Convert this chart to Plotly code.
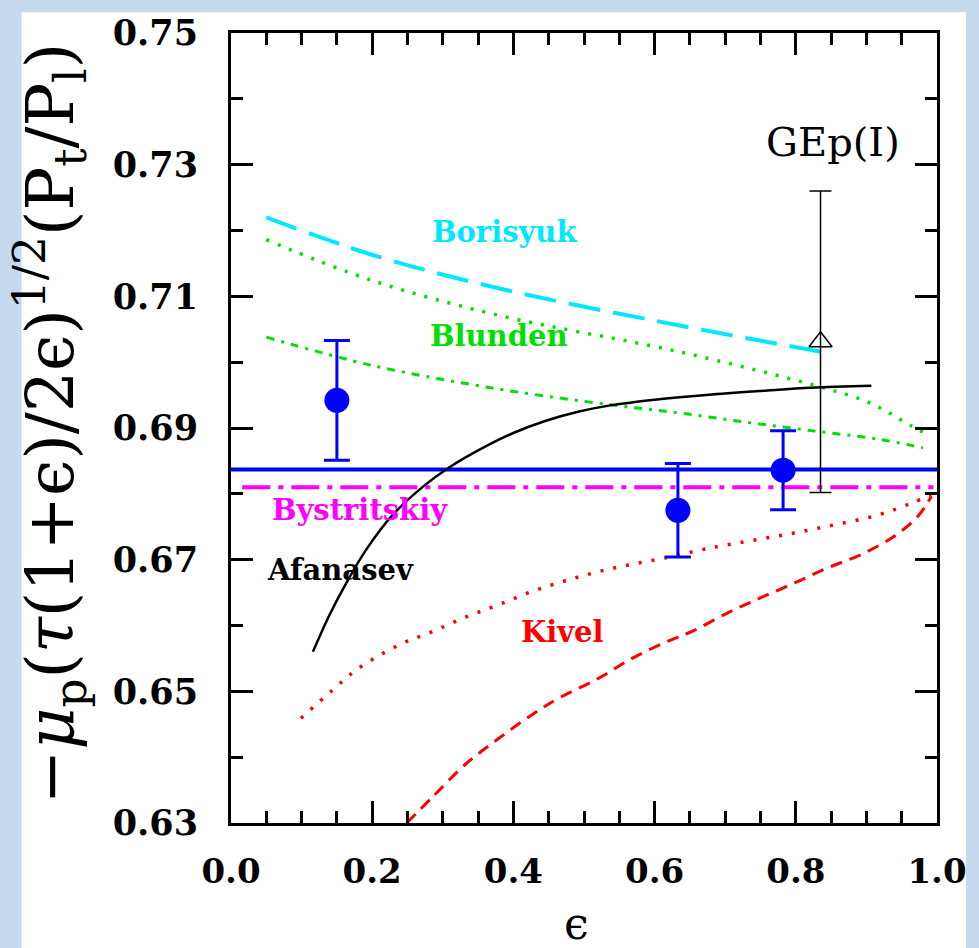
import plotly.graph_objects as go

# fit result and data
fit_value = 0.6837
bystritskiy_value = 0.681

data_eps = [0.150, 0.633, 0.782]
data_val = [0.6942, 0.6775, 0.6836]
data_err = [0.0091, 0.0071, 0.0060]

gep_eps = [0.835]
gep_val = [0.7031]
gep_err = [0.0229]

# theory curves
borisyuk_eps = [0.05, 0.20, 0.38, 0.634, 0.846]
borisyuk_val = [0.7220, 0.7163, 0.7112, 0.7056, 0.7014]

blunden_dot_eps = [0.05, 0.20, 0.38, 0.634, 0.836, 0.903, 0.964, 0.988]
blunden_dot_val = [0.7186, 0.7124, 0.7071, 0.7016, 0.6962, 0.6939, 0.6903, 0.6889]

blunden_dd_eps = [0.05, 0.20, 0.38, 0.54, 0.634, 0.728, 0.822, 0.917, 0.980]
blunden_dd_val = [0.7038, 0.6995, 0.6959, 0.6935, 0.6923, 0.6909, 0.6896, 0.6883, 0.6870]

afanasev_eps = [0.116, 0.140, 0.164, 0.192, 0.229, 0.272, 0.309, 0.352, 0.399, 0.446, 0.493, 0.535, 0.600, 0.681, 0.760, 0.822, 0.907]
afanasev_val = [0.6560, 0.6617, 0.6666, 0.6716, 0.6768, 0.6811, 0.6840, 0.6867, 0.6892, 0.6911, 0.6925, 0.6934, 0.6943, 0.6951, 0.6957, 0.6961, 0.6964]

kivel_dot_eps = [0.099, 0.144, 0.178, 0.239, 0.286, 0.333, 0.380, 0.427, 0.474, 0.521, 0.568, 0.616, 0.662, 0.705, 0.775, 0.846, 0.917, 0.964, 0.992]
kivel_dot_val = [0.6459, 0.6502, 0.6533, 0.6571, 0.6591, 0.6613, 0.6632, 0.6652, 0.6668, 0.6682, 0.6693, 0.6703, 0.6714, 0.6723, 0.6736, 0.6751, 0.6768, 0.6786, 0.6798]

kivel_dash_eps = [0.249, 0.285, 0.333, 0.380, 0.427, 0.465, 0.521, 0.568, 0.616, 0.653, 0.705, 0.752, 0.799, 0.846, 0.893, 0.940, 0.973, 0.992]
kivel_dash_val = [0.6300, 0.6339, 0.6390, 0.6429, 0.6465, 0.6490, 0.6520, 0.6550, 0.6575, 0.6591, 0.6620, 0.6643, 0.6665, 0.6688, 0.6708, 0.6736, 0.6766, 0.6796]

SERIF = "DejaVu Serif"

fig = go.Figure()

# horizontal lines
fig.add_trace(go.Scatter(x=[0.0, 1.0], y=[fit_value, fit_value], mode='lines',
                         line=dict(color='#0000ff', width=4)))
fig.add_trace(go.Scatter(x=[0.016, 0.995], y=[bystritskiy_value, bystritskiy_value], mode='lines',
                         line=dict(color='#ff00ff', width=4, dash='28px,8px,5px,8px')))

# theory curves
fig.add_trace(go.Scatter(x=borisyuk_eps, y=borisyuk_val, mode='lines', line_shape='spline',
                         line=dict(color='#00e8ff', width=4, dash='32px,13px')))
fig.add_trace(go.Scatter(x=blunden_dot_eps, y=blunden_dot_val, mode='lines', line_shape='spline',
                         line=dict(color='#00e000', width=3.5, dash='3px,9px')))
fig.add_trace(go.Scatter(x=blunden_dd_eps, y=blunden_dd_val, mode='lines', line_shape='spline',
                         line=dict(color='#00e000', width=3, dash='8px,7px,3px,7px')))
fig.add_trace(go.Scatter(x=afanasev_eps, y=afanasev_val, mode='lines', line_shape='spline',
                         line=dict(color='black', width=2.5)))
fig.add_trace(go.Scatter(x=kivel_dot_eps, y=kivel_dot_val, mode='lines', line_shape='spline',
                         line=dict(color='#ff0000', width=3.5, dash='3px,10px')))
fig.add_trace(go.Scatter(x=kivel_dash_eps, y=kivel_dash_val, mode='lines', line_shape='spline',
                         line=dict(color='#ff0000', width=3, dash='12px,8px')))

# GEp(I)
fig.add_trace(go.Scatter(x=gep_eps, y=gep_val, mode='markers',
                         marker=dict(symbol='triangle-up-open', size=20, color='black', line=dict(width=1.5)),
                         error_y=dict(type='data', array=gep_err, color='black', thickness=1.5, width=11)))

# data
fig.add_trace(go.Scatter(x=data_eps, y=data_val, mode='markers',
                         marker=dict(symbol='circle', size=25, color='#0000ff'),
                         error_y=dict(type='data', array=data_err, color='#0000ff', thickness=3, width=13)))

labels = [
    (0.387, 0.7197, "Borisyuk", '#00e8ff'),
    (0.380, 0.7040, "Blunden", '#00e000'),
    (0.183, 0.6775, "Bystritskiy", '#ff00ff'),
    (0.155, 0.6685, "Afanasev", 'black'),
    (0.469, 0.6590, "Kivel", '#ff0000'),
]
for lx, ly, txt, col in labels:
    fig.add_annotation(x=lx, y=ly, text=txt, showarrow=False, xanchor='center', yanchor='middle',
                       font=dict(family=SERIF, size=29, color=col, weight='bold'))

fig.add_annotation(x=0.853, y=0.7335, text="GEp(I)", showarrow=False, xanchor='center', yanchor='middle',
                   font=dict(family=SERIF, size=40, color='black'))

# axis titles
fig.add_annotation(x=-0.256, y=0.505, xref='paper', yref='paper', textangle=-90, showarrow=False,
                   xanchor='center', yanchor='middle',
                   text="−<i>μ</i><sub>p</sub>(<i>τ</i>(1+ϵ)/2ϵ)<sup>1/2</sup>(P<sub>t</sub>/P<sub>l</sub>)",
                   font=dict(family=SERIF, size=65, color='black'))
fig.add_annotation(x=0.489, y=-0.127, xref='paper', yref='paper', showarrow=False,
                   xanchor='center', yanchor='middle',
                   text="ϵ", font=dict(family=SERIF, size=44, color='black'))

# white page panel on the blue frame
fig.add_shape(type='rect', xref='paper', yref='paper', x0=-0.2966, x1=1.041, y0=-0.2, y1=1.0263,
              fillcolor='white', line=dict(width=0), layer='below')

fig.update_xaxes(range=[0, 1], tickmode='linear', tick0=0, dtick=0.2, tickformat='.1f',
                 ticks='inside', ticklen=22, tickwidth=3, tickcolor='black',
                 minor=dict(ticks='inside', dtick=0.05, ticklen=12, tickwidth=2.5, tickcolor='black'),
                 showline=True, linewidth=3, linecolor='black', mirror='ticks',
                 showgrid=False, zeroline=False, ticklabelstandoff=16,
                 tickfont=dict(family=SERIF, size=34, color='black', weight='bold'))
fig.update_yaxes(range=[0.63, 0.75], tickmode='linear', tick0=0.63, dtick=0.02, tickformat='.2f',
                 ticks='inside', ticklen=22, tickwidth=3, tickcolor='black',
                 minor=dict(ticks='inside', dtick=0.01, ticklen=12, tickwidth=2.5, tickcolor='black'),
                 showline=True, linewidth=3, linecolor='black', mirror='ticks',
                 showgrid=False, zeroline=False, ticklabelstandoff=23,
                 tickfont=dict(family=SERIF, size=35, color='black', weight='bold'))

fig.update_layout(
    width=979, height=948,
    margin=dict(l=231, r=40, t=25, b=125),
    paper_bgcolor='#c6daef',
    plot_bgcolor='white',
    showlegend=False,
)

# drop the default page margin so the figure fills the window
fig.write_html("out.html", config={'displayModeBar': False},
               post_script="document.body.style.margin='0';document.body.style.background='#c6daef';")
